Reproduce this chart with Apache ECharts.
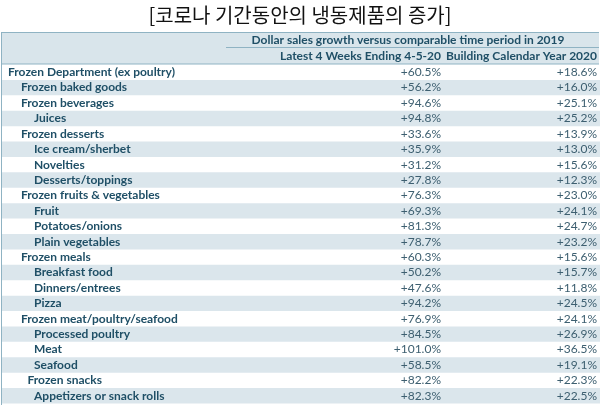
<!DOCTYPE html><html><head><meta charset="utf-8">
<script src="https://cdn.jsdelivr.net/npm/echarts@6/dist/echarts.min.js"></script>
<style>html,body{margin:0;padding:0;background:#fff}#c{width:600px;height:405px}</style></head><body><div id="c"></div>
<script>
const categories=["Frozen Department (ex poultry)","Frozen baked goods","Frozen beverages","Juices","Frozen desserts","Ice cream/sherbet","Novelties","Desserts/toppings","Frozen fruits & vegetables","Fruit","Potatoes/onions","Plain vegetables","Frozen meals","Breakfast food","Dinners/entrees","Pizza","Frozen meat/poultry/seafood","Processed poultry","Meat","Seafood","Frozen snacks","Appetizers or snack rolls"];
const levels=[0,1,1,2,1,2,2,2,1,2,2,2,1,2,2,2,1,2,2,2,1.5,2];
const latest4Weeks=[60.5,56.2,94.6,94.8,33.6,35.9,31.2,27.8,76.3,69.3,81.3,78.7,60.3,50.2,47.6,94.2,76.9,84.5,101.0,58.5,82.2,82.3];
const calendarYear2020=[18.6,16.0,25.1,25.2,13.9,13.0,15.6,12.3,23.0,24.1,24.7,23.2,15.6,15.7,11.8,24.5,24.1,26.9,36.5,19.1,22.3,22.5];
const title="[코로나 기간동안의 냉동제품의 증가]";
const headerTop="Dollar sales growth versus comparable time period in 2019";
const headerCols=["Latest 4 Weeks Ending 4-5-20","Building Calendar Year 2020"];
const fmt=v=>"+"+v.toFixed(1)+"%";
const C="#1f4f66",F="Lato,sans-serif";
const chart=echarts.init(document.getElementById('c'));
chart.setOption({
animation:false,
title:{text:title,left:'center',top:0,textStyle:{fontFamily:"'Noto Sans CJK KR'",fontSize:20,fontWeight:'normal',color:'#111'}},
grid:{left:0,right:0,top:64.5,bottom:1.5},
xAxis:{type:'value',min:0,max:600,show:false},
yAxis:{type:'category',data:categories,inverse:true,show:false},
graphic:[
{type:'rect',shape:{x:1,y:32,width:598,height:32},style:{fill:'#d9e5eb'}},
{type:'line',shape:{x1:226,y1:47.5,x2:599,y2:47.5},style:{stroke:'#8fb3c3',lineWidth:1}},
{type:'line',shape:{x1:1,y1:32.5,x2:599,y2:32.5},style:{stroke:'#8fb3c3',lineWidth:1}},
{type:'line',shape:{x1:1,y1:64,x2:599,y2:64},style:{stroke:'#8fb3c3',lineWidth:1}},
{type:'line',shape:{x1:1.5,y1:32,x2:1.5,y2:405},style:{stroke:'#8fb3c3',lineWidth:1}},
{type:'text',x:408,y:40,style:{text:headerTop,align:'center',verticalAlign:'middle',font:"bold 12px "+F,fill:C}},
{type:'text',x:441,y:56,style:{text:headerCols[0],align:'right',verticalAlign:'middle',font:"bold 12px "+F,fill:C}},
{type:'text',x:597,y:56,style:{text:headerCols[1],align:'right',verticalAlign:'middle',font:"bold 12px "+F,fill:C}}
],
series:[{type:'custom',data:categories.map((c,i)=>[i,latest4Weeks[i],calendarYear2020[i]]),
renderItem:(p,api)=>{
 const i=api.value(0);const pt=api.coord([0,i]);const h=api.size([0,1])[1];
 const ch=[];
 if(i%2===1) ch.push({type:'rect',shape:{x:2,y:pt[1]-h/2,width:598,height:h},style:{fill:'#dbe6ec'}});
 ch.push({type:'text',x:8+levels[i]*13,y:pt[1],style:{text:categories[i],verticalAlign:'middle',font:"bold 12px "+F,fill:C}});
 ch.push({type:'text',x:api.coord([441,i])[0],y:pt[1],style:{text:fmt(api.value(1)),align:'right',verticalAlign:'middle',font:"12px "+F,fill:'#3d5f70'}});
 ch.push({type:'text',x:api.coord([597,i])[0],y:pt[1],style:{text:fmt(api.value(2)),align:'right',verticalAlign:'middle',font:"12px "+F,fill:'#3d5f70'}});
 return {type:'group',children:ch};
}}]
});
</script></body></html>
